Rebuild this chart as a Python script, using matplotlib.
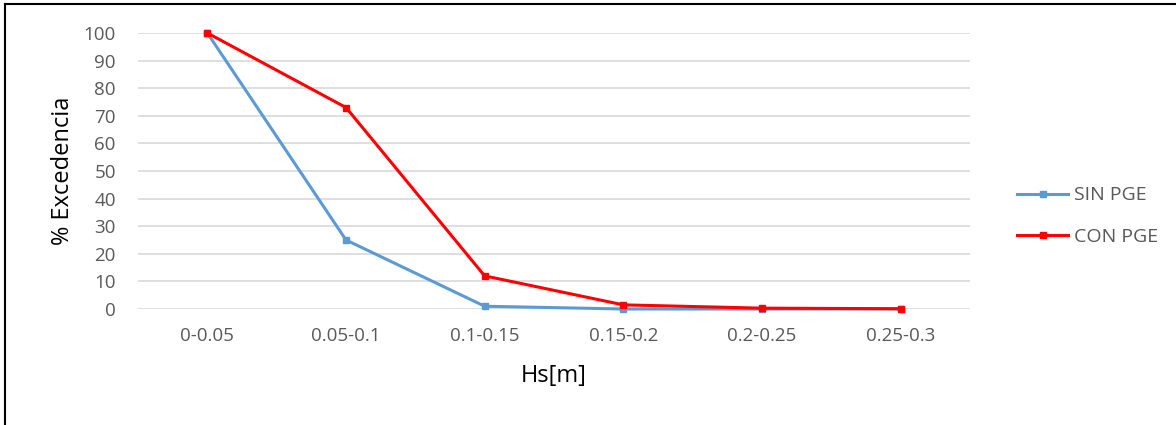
import numpy as np
import matplotlib
matplotlib.use("Agg")
import matplotlib.pyplot as plt
from matplotlib.lines import Line2D

categorias = ["0-0.05", "0.05-0.1", "0.1-0.15", "0.15-0.2", "0.2-0.25", "0.25-0.3"]
sin_pge = [100, 25, 1, 0, 0, 0]
con_pge = [100, 73, 12, 1.5, 0.3, 0.1]

plt.rcParams["font.family"] = ["Open Sans", "DejaVu Sans"]

W, H = 1176, 425
fig = plt.figure(figsize=(W / 100, H / 100), dpi=100)
ax = fig.add_axes([138 / W, 1 - 309 / H, (970 - 138) / W, (309 - 33) / H])

x = np.arange(len(categorias))
ax.plot(x, sin_pge, "-s", color="#5b9bd5", lw=2.2, ms=5, label="SIN PGE", clip_on=False, zorder=3)
ax.plot(x, con_pge, "-s", color="#ff0000", lw=2.2, ms=5, label="CON PGE", clip_on=False, zorder=4)

ax.set_xlim(-0.5, len(categorias) - 0.5)
ax.set_ylim(0, 100)
ax.set_yticks(np.arange(0, 101, 10))
ax.set_xticks(x)
ax.set_xticklabels(categorias)
ax.grid(True, axis="y", color="#d9d9d9", lw=1.2)
ax.set_axisbelow(True)
for s in ax.spines.values():
    s.set_visible(False)
ax.tick_params(length=0, labelsize=13.5, labelcolor="#595959")
ax.tick_params(axis="y", pad=16)
ax.tick_params(axis="x", pad=13)
ax.set_xlabel("Hs[m]", fontsize=17, labelpad=14)
ax.set_ylabel("% Excedencia", fontsize=17, labelpad=6)

ax.legend(loc="center left", bbox_to_anchor=(1000 / W, 1 - 216 / H), bbox_transform=fig.transFigure,
          frameon=False, fontsize=14, labelcolor="#595959", handlelength=2.6, labelspacing=1.2,
          handletextpad=0.3)

# marco del grafico
fig.add_artist(Line2D([5 / W, 5 / W], [0, 1 - 4 / H], transform=fig.transFigure, color="black", lw=1.5))
fig.add_artist(Line2D([5 / W, 1], [1 - 4 / H, 1 - 4 / H], transform=fig.transFigure, color="black", lw=1.5))

fig.savefig("out.png", dpi=100)
